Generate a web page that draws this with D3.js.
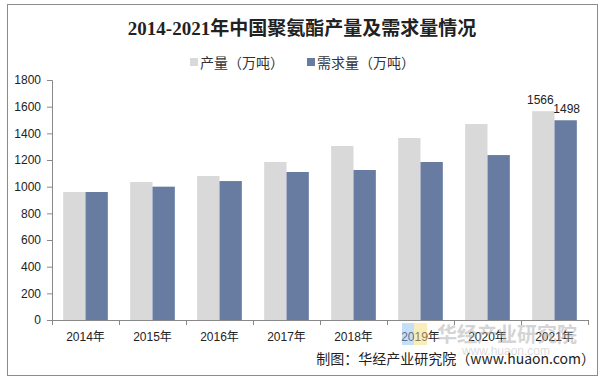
<!DOCTYPE html>
<html><head><meta charset="utf-8">
<script src="https://cdn.jsdelivr.net/npm/d3@7"></script>
<style>body{margin:0;background:#fff}svg{display:block}</style>
</head><body>
<svg id="c" width="605" height="379"></svg>
<script>
const categories = ["2014年","2015年","2016年","2017年","2018年","2019年","2020年","2021年"];
const production = [960, 1035, 1080, 1185, 1305, 1365, 1470, 1566];
const demand = [960, 1000, 1042, 1110, 1125, 1185, 1237, 1498];
const seriesNames = ["产量（万吨）", "需求量（万吨）"];
const yTicks = [0,200,400,600,800,1000,1200,1400,1600,1800];
const title = "2014-2021年中国聚氨酯产量及需求量情况";
const source = "制图：华经产业研究院（www.huaon.com）";
const colors = ["#d9d9d9", "#687ba1"];

const svg = d3.select("#c");
const sans = "'Liberation Sans', Arial, 'Noto Sans CJK SC', sans-serif";
svg.append("rect").attr("x",7.5).attr("y",4.5).attr("width",590).attr("height",371)
  .attr("fill","#fff").attr("stroke","#8c8c8c").attr("stroke-width",1);

svg.append("text").attr("x",302).attr("y",35).attr("text-anchor","middle")
  .attr("font-family","'Liberation Serif','Noto Sans CJK SC',serif").attr("font-size",19)
  .attr("font-weight","bold").attr("fill","#222").text(title);

// legend
const leg = [{x:190, i:0},{x:307, i:1}];
leg.forEach(d=>{
  svg.append("rect").attr("x",d.x).attr("y",58).attr("width",8).attr("height",8).attr("fill",colors[d.i]);
  svg.append("text").attr("x",d.x+10).attr("y",67.5).attr("font-family","'Noto Sans CJK SC',sans-serif")
    .attr("font-size",14).attr("fill","#333").text(seriesNames[d.i]);
});

const y = d3.scaleLinear().domain([0,1800]).range([320,80]);
const x0 = d3.scaleBand().domain(categories).range([52,588]).padding(0);
const keys = ["p","d"];
const x1 = d3.scaleBand().domain(keys).range([0,x0.bandwidth()]).paddingInner(0).paddingOuter(0.5);

const data = categories.map((c,i)=>({c, p:production[i], d:demand[i]}));

const g = svg.append("g");
data.forEach(row=>{
  keys.forEach((k,ki)=>{
    g.append("rect").attr("x",x0(row.c)+x1(k)).attr("y",y(row[k]))
      .attr("width",x1.bandwidth()).attr("height",320-y(row[k])).attr("fill",colors[ki]);
  });
});

// labels for last year
const last = data[data.length-1];
svg.append("text").attr("x",x0(last.c)+x1("p")+x1.bandwidth()/2-3).attr("y",y(last.p)-7)
  .attr("text-anchor","middle").attr("font-family",sans).attr("font-size",12).attr("fill","#222").text(last.p);
svg.append("text").attr("x",x0(last.c)+x1("d")+x1.bandwidth()/2+1).attr("y",y(last.d)-7)
  .attr("text-anchor","middle").attr("font-family",sans).attr("font-size",12).attr("fill","#222").text(last.d);

// axes
const yAxis = svg.append("g").attr("transform","translate(52,0)")
  .call(d3.axisLeft(y).tickValues(yTicks).tickFormat(d3.format("d")).tickSize(5).tickPadding(6));
yAxis.selectAll("path,line").attr("stroke","#888");
yAxis.selectAll("text").attr("font-family",sans).attr("font-size",12).attr("fill","#222");

const xAxis = svg.append("g").attr("transform","translate(0,320)")
  .call(d3.axisBottom(x0).tickSize(0).tickPadding(12));
xAxis.select(".domain").attr("stroke","#888");
xAxis.selectAll("text").attr("font-family",sans).attr("font-size",12).attr("fill","#222");
// category boundary ticks
const bounds = categories.map(c=>x0(c)).concat([x0.range()[1]]);
svg.append("g").selectAll("line").data(bounds).join("line")
  .attr("x1",d=>d+0.5).attr("x2",d=>d+0.5).attr("y1",320).attr("y2",325).attr("stroke","#888");

// watermark
const wm = svg.append("g").attr("opacity",0.5);
wm.append("rect").attr("x",402).attr("y",323).attr("width",13).attr("height",22).attr("fill","#8fbff0");
wm.append("rect").attr("x",414).attr("y",323).attr("width",13).attr("height",22).attr("fill","#f5dc7a");
wm.append("text").attr("x",437).attr("y",342).attr("font-family","'Noto Sans CJK SC',sans-serif")
  .attr("font-size",20).attr("font-weight","bold").attr("fill","#aaa").text("华经产业研究院");
wm.append("text").attr("x",462).attr("y",355).attr("font-family",sans)
  .attr("font-size",12).attr("fill","#bbb").text("www.huaon.com");

svg.append("text").attr("x",595).attr("y",364).attr("text-anchor","end")
  .attr("font-family","'Noto Sans CJK SC',sans-serif").attr("font-size",14).attr("fill","#222").text(source);
</script>
</body></html>
